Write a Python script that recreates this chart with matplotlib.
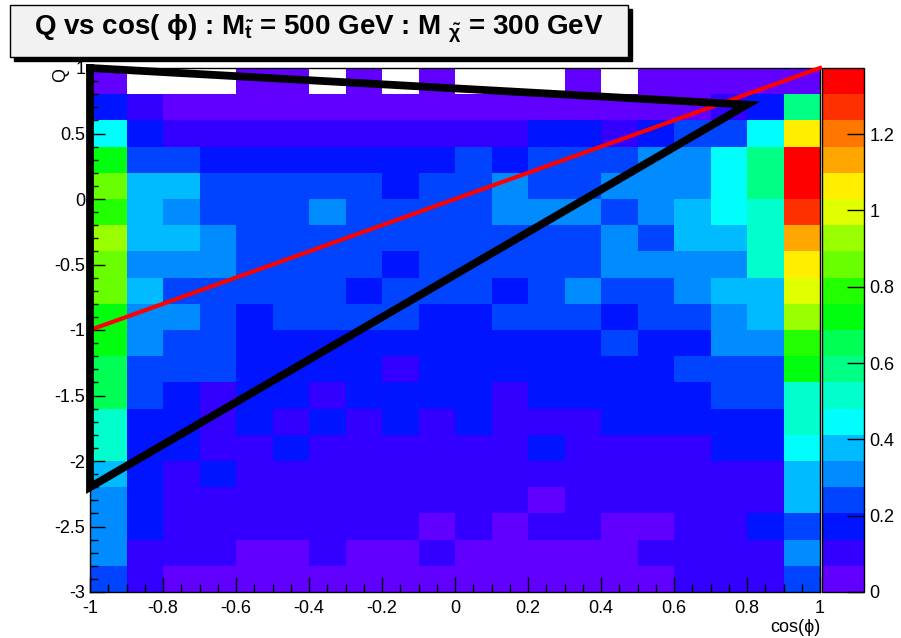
import numpy as np
import matplotlib.pyplot as plt
from matplotlib.colors import ListedColormap, BoundaryNorm
from matplotlib.patches import Rectangle
from matplotlib.ticker import MultipleLocator, FuncFormatter

plt.rcParams['font.family'] = ['Liberation Sans', 'DejaVu Sans']
plt.rcParams['axes.unicode_minus'] = False
plt.rcParams['mathtext.fontset'] = 'custom'
plt.rcParams['mathtext.rm'] = 'Liberation Sans:bold'
plt.rcParams['mathtext.it'] = 'Liberation Sans:bold'
plt.rcParams['mathtext.bf'] = 'Liberation Sans:bold'

# binning: 20 bins in cos(phi), 20 bins in Q (rows listed from Q=1 down to Q=-3)
cos_edges = np.linspace(-1.0, 1.0, 21)
q_edges = np.linspace(1.0, -3.0, 21)

# bin contents (0 = empty bin, left white)
q_rows = [
    [.03, 0, 0, 0, .03, .03, 0, .03, 0, .03, 0, 0, 0, .03, 0, .03, .03, .03, .03, .03],
    [.17, .10, .03, .03, .03, .03, .03, .03, .03, .03, .03, .03, .03, .03, .03, .03, .03, .10, .17, .58],
    [.45, .17, .10, .10, .10, .10, .10, .10, .10, .10, .10, .10, .17, .17, .10, .17, .24, .24, .45, 1.06],
    [.72, .24, .24, .17, .17, .17, .17, .17, .17, .17, .24, .17, .24, .24, .24, .31, .31, .45, .58, 1.33],
    [.86, .38, .38, .24, .24, .24, .24, .24, .17, .24, .24, .31, .24, .24, .31, .31, .31, .45, .58, 1.37],
    [.79, .38, .31, .24, .24, .24, .31, .24, .24, .24, .24, .31, .31, .31, .24, .31, .38, .45, .51, 1.27],
    [.92, .38, .38, .31, .24, .24, .24, .24, .24, .24, .24, .24, .24, .24, .31, .24, .38, .38, .51, 1.13],
    [.86, .31, .31, .31, .24, .24, .24, .24, .17, .24, .24, .24, .24, .24, .31, .31, .31, .31, .51, 1.06],
    [.86, .38, .24, .24, .24, .24, .24, .17, .24, .24, .24, .17, .24, .31, .24, .24, .31, .38, .38, .99],
    [.72, .31, .31, .24, .17, .24, .24, .24, .24, .17, .17, .24, .24, .24, .17, .24, .24, .31, .38, .92],
    [.72, .31, .24, .24, .17, .17, .17, .17, .17, .17, .17, .17, .17, .17, .24, .17, .17, .31, .31, .79],
    [.65, .24, .24, .24, .17, .17, .17, .17, .10, .17, .17, .17, .17, .17, .17, .17, .24, .24, .24, .72],
    [.65, .24, .17, .10, .17, .17, .10, .17, .17, .17, .17, .10, .17, .17, .17, .17, .17, .24, .24, .51],
    [.51, .17, .17, .10, .17, .10, .17, .10, .17, .10, .17, .10, .10, .10, .17, .17, .17, .17, .17, .51],
    [.51, .17, .17, .10, .10, .17, .10, .10, .10, .10, .10, .10, .17, .10, .10, .10, .10, .17, .17, .45],
    [.38, .17, .10, .17, .10, .10, .10, .10, .10, .10, .10, .10, .10, .10, .10, .10, .10, .10, .10, .38],
    [.31, .17, .10, .10, .10, .10, .10, .10, .10, .10, .10, .10, .03, .10, .10, .10, .10, .10, .10, .38],
    [.31, .17, .10, .10, .10, .10, .10, .10, .10, .03, .10, .03, .10, .10, .03, .03, .10, .10, .17, .24],
    [.31, .10, .10, .10, .03, .03, .10, .03, .03, .10, .03, .03, .03, .03, .03, .10, .10, .10, .10, .31],
    [.24, .10, .03, .03, .03, .03, .03, .03, .03, .03, .03, .03, .03, .03, .03, .03, .10, .10, .10, .24],
]

# overlay lines
cut_x = [-1.0, 0.8, -1.0, -1.0]
cut_y = [1.0, 0.72, -2.2, 1.0]
diag_x = [-1.0, 1.0]
diag_y = [-1.0, 1.0]

z_ticks = [0, 0.2, 0.4, 0.6, 0.8, 1.0, 1.2]

# ROOT "pretty" palette, 20 contour levels
palette = ['#6200FF', '#3300FF', '#0014FF', '#0044FF', '#008BFF', '#00BBFF',
           '#00FFFC', '#00FFCC', '#00FF85', '#00FF55', '#00FF0E', '#22FF00',
           '#69FF00', '#99FF00', '#E0FF00', '#FFEE00', '#FFA700', '#FF7700',
           '#FF3000', '#FF0000']

z = np.ma.masked_equal(np.array(q_rows), 0)
z_top = 1.373
levels = np.linspace(0, z_top, len(palette) + 1)
cmap = ListedColormap(palette)
norm = BoundaryNorm(levels, cmap.N)

fig = plt.figure(figsize=(9.01, 6.38), dpi=100)
W, H = 901, 638
ax = fig.add_axes([90 / W, 1 - 592 / H, 730 / W, 524 / H])
cax = fig.add_axes([822 / W, 1 - 592 / H, 42 / W, 524 / H])

mesh = ax.pcolormesh(cos_edges, q_edges, z, cmap=cmap, norm=norm)
ax.set_xlim(-1, 1)
ax.set_ylim(-3, 1)

ax.plot(diag_x, diag_y, color='red', lw=3, clip_on=False, zorder=4)
ax.plot(cut_x, cut_y, color='black', lw=5.6, clip_on=False, zorder=5,
        solid_joinstyle='miter')

fmt = FuncFormatter(lambda v, p: '%g' % (round(v, 6) + 0.0))
ax.xaxis.set_major_locator(MultipleLocator(0.2))
ax.xaxis.set_minor_locator(MultipleLocator(0.05))
ax.yaxis.set_major_locator(MultipleLocator(0.5))
ax.yaxis.set_minor_locator(MultipleLocator(0.1))
ax.xaxis.set_major_formatter(fmt)
ax.yaxis.set_major_formatter(fmt)
ax.tick_params(which='both', direction='in', top=False, right=False, labelsize=13)
ax.tick_params(which='major', length=11, width=1)
ax.tick_params(which='minor', length=5.5, width=1)
ax.tick_params(axis='x', pad=6)
for s in ax.spines.values():
    s.set_linewidth(1)

ax.set_xlabel('cos(ϕ)', loc='right', fontsize=13, labelpad=1)
ax.set_ylabel('Q', loc='top', fontsize=13)
ax.yaxis.set_label_coords(-0.028, 1.0)

cb = fig.colorbar(mesh, cax=cax, ticks=z_ticks)
cb.ax.yaxis.set_major_formatter(fmt)
cb.ax.tick_params(direction='in', length=12, width=1, labelsize=13, pad=4)
cb.outline.set_linewidth(1)
cb.ax.minorticks_off()

# title box with shadow
x0, y0, bw, bh = 10 / W, 1 - 57 / H, 618 / W, 52 / H
fig.patches.append(Rectangle((x0 + 4 / W, y0 - 4 / H), bw, bh, transform=fig.transFigure,
                             facecolor='black', edgecolor='black', zorder=1))
fig.patches.append(Rectangle((x0, y0), bw, bh, transform=fig.transFigure,
                             facecolor='#f2f2f2', edgecolor='black', lw=1, zorder=2))
fig.text(x0 + bw / 2, y0 + bh * 0.55,
         r'Q vs cos( $\phi$) : M$_{\tilde{t}}$ = 500 GeV : M $_{\tilde{\chi}}$ = 300 GeV',
         ha='center', va='center', fontsize=20, fontweight='bold', zorder=3)

fig.savefig('out.png', dpi=100)
